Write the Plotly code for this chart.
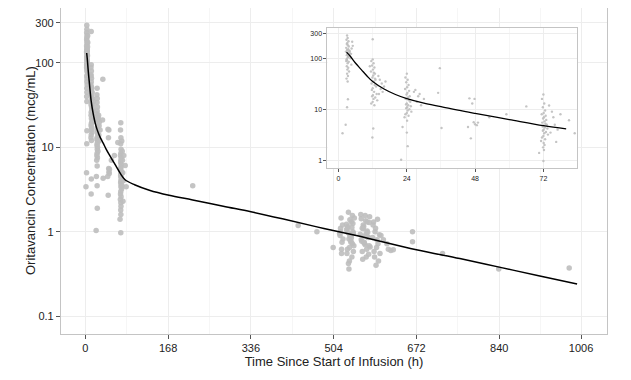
import plotly.graph_objects as go

# ---------------- data ----------------
# early samples (0-84 h), shown in both main plot and inset
c1_t = [3.0, 3.2, 2.8, 3.5, 3.1, 2.9, 3.3, 3.6, 2.7, 3.4, 3.0, 3.8, 2.6, 3.2, 4.0, 3.1, 2.9, 3.5, 3.3, 4.2,
        2.8, 3.0, 3.6, 3.2, 4.5, 2.9, 3.4, 3.1, 3.7, 3.0, 3.3, 2.8, 3.2, 4.8, 5.0, 4.6, 3.9, 4.4, 3.5, 3.0,
        2.7, 3.3, 3.0, 1.4, 2.5]
c1_c = [280, 250, 230, 215, 200, 190, 180, 170, 160, 150, 145, 140, 135, 130, 125, 120, 115, 110, 105, 100,
        95, 90, 85, 80, 75, 70, 65, 60, 55, 50, 45, 40, 35, 210, 175, 155, 138, 122, 108, 98,
        88, 15.7, 11, 3.4, 5.0]
c2_t = [12.0, 11.5, 12.3, 11.8, 12.6, 12.1, 11.4, 12.8, 12.2, 11.9, 13.0, 12.4, 11.6, 12.7, 13.2, 12.0, 11.7,
        12.5, 13.4, 12.1, 11.8, 12.9, 12.3, 13.6, 12.0, 11.5, 12.6, 14.0, 14.5, 15.2, 16.0, 14.8, 15.5, 14.2,
        16.5, 12.0, 12.2, 11.9, 11.0, 12.4, 12.8]
c2_c = [95, 88, 80, 72, 66, 60, 55, 50, 46, 42, 38, 35, 32, 30, 28, 26, 24, 22, 20, 19, 18, 17, 16, 15, 14,
        13, 12, 45, 38, 32, 28, 25, 22, 20, 35, 236, 4.2, 2.8, 70, 52, 40]
c3_t = [24.0, 23.5, 24.3, 23.8, 24.6, 24.1, 23.4, 24.8, 24.2, 23.9, 25.0, 24.4, 23.6, 24.7, 25.2, 24.0, 23.7,
        24.5, 25.4, 24.1, 23.8, 24.9, 24.3, 25.6, 24.0, 23.5, 24.6, 23.2, 24.1, 22.5, 24.0, 24.3, 27.0, 28.0,
        27.5, 29.0, 28.5, 26.5, 30.0, 22.0]
c3_c = [50, 42, 38, 34, 30, 27, 25, 23, 21, 19.5, 18, 17, 16, 15, 14, 13, 12.5, 12, 11.5, 11, 10.5, 10, 9.5,
        9, 8.5, 8, 7.5, 7, 6, 4.5, 3.5, 1.9, 24, 18, 14, 12, 20, 22, 16, 1.03]
c4_t = [35.6, 35.0, 36.2, 46.0, 47.0, 47.5, 48.0, 48.6, 46.5, 45.5, 47.8, 49.0, 59.0, 66.0, 53.0]
c4_c = [64, 21, 4.3, 16.4, 13, 5.6, 5.1, 4.9, 2.7, 4.5, 16.0, 5.5, 8.0, 11.4, 7.0]
c5_t = [72.0, 71.5, 72.3, 71.8, 72.6, 72.1, 71.4, 72.8, 72.2, 71.9, 73.0, 72.4, 71.6, 72.7, 73.2, 72.0, 71.7,
        72.5, 73.4, 72.1, 71.8, 72.9, 72.3, 73.6, 72.0, 71.5, 72.6, 71.2, 72.1, 72.4, 71.9, 72.2, 70.5, 72.0,
        74.0, 75.0, 75.5, 76.0, 74.5, 76.5, 78.0, 77.0, 81.0, 83.0]
c5_c = [19.5, 16, 13, 11, 9.5, 8.5, 8, 7.5, 7, 6.6, 6.2, 5.8, 5.5, 5.2, 5.0, 4.8, 4.6, 4.4, 4.2, 4.0, 3.8,
        3.6, 3.4, 3.2, 3.0, 2.8, 2.6, 2.4, 2.2, 2.0, 1.8, 1.6, 1.4, 0.97, 11.9, 9, 7, 5, 3.5, 2.3, 8, 4, 6.1, 3.4]

# late samples (main plot only)
late_t = [218, 432, 470, 503,
          517, 519, 520, 518, 521, 522, 516, 520, 518, 523,
          530, 532, 534, 536, 538, 540, 542, 544, 531, 533, 535, 537, 539, 541, 543, 545, 530, 534, 538, 542,
          536, 540, 532, 544, 546, 535, 539, 543, 537, 541, 533,
          558, 560, 562, 564, 566, 568, 570, 572, 574, 576, 578, 559, 561, 563, 565, 567, 569, 571, 573, 575,
          577, 560, 564, 568, 572, 576, 562, 566, 570, 574,
          583, 585, 587, 589, 591, 593, 595, 597, 584, 586, 588, 590, 592, 594,
          600, 605, 612, 615, 620, 625, 598,
          664, 664, 725, 839, 982]
late_c = [3.5, 1.18, 1.0, 0.65,
          0.9, 1.45, 0.62, 1.1, 0.75, 1.2, 0.95, 0.55, 1.0, 0.82,
          1.05, 0.62, 1.7, 0.45, 0.88, 1.3, 0.72, 0.96, 0.55, 1.15, 0.36, 1.38, 0.78, 0.5, 1.0, 0.68, 1.22,
          0.42, 0.92, 1.55, 0.65, 0.85, 1.1, 0.58, 1.45, 0.82, 0.75, 1.25, 0.9, 1.12, 0.98,
          0.93, 1.42, 0.58, 1.2, 0.73, 1.55, 0.5, 1.02, 0.85, 1.28, 0.66, 1.6, 0.77, 0.47, 1.15, 0.89, 1.35,
          0.62, 0.98, 0.54, 1.5, 0.81, 1.08, 0.7, 1.3, 0.68, 1.1, 0.75, 0.95, 0.86,
          0.85, 1.3, 0.5, 1.1, 0.65, 1.4, 0.45, 0.92, 1.2, 0.58, 1.0, 0.4, 0.8, 0.72,
          0.9, 0.8, 0.72, 0.62, 0.6, 0.61, 0.55,
          1.0, 0.76, 0.55, 0.36, 0.37]

# population-predicted curve
curve_t = [2.8, 4, 6, 8, 10, 12, 16, 20, 24, 30, 36, 42, 48, 60, 72, 80, 100, 130, 170, 218, 280, 336, 400,
           470, 550, 672, 760, 840, 920, 998]
curve_c = [131, 112, 80, 60, 45, 35, 25, 19.5, 16.2, 13.2, 11.3, 9.6, 8.3, 6.3, 4.8, 4.15, 3.6, 3.1, 2.7,
           2.38, 2.0, 1.72, 1.42, 1.14, 0.9, 0.61, 0.48, 0.38, 0.30, 0.24]

main_xticks = [0, 168, 336, 504, 672, 840, 1006]
main_yticks = [0.1, 1, 10, 100, 300]
inset_xticks = [0, 24, 48, 72]
inset_yticks = [1, 10, 100, 300]

early_t = c1_t + c2_t + c3_t + c4_t + c5_t
early_c = c1_c + c2_c + c3_c + c4_c + c5_c

# ---------------- figure ----------------
pt_color = "rgba(190,190,190,0.9)"
fig = go.Figure()
fig.add_trace(go.Scatter(x=early_t + late_t, y=early_c + late_c, mode="markers",
                         marker=dict(size=5.5, color=pt_color), xaxis="x", yaxis="y",
                         hoverinfo="skip", showlegend=False))
fig.add_trace(go.Scatter(x=curve_t, y=curve_c, mode="lines", line=dict(color="black", width=1.5),
                         line_shape="spline", xaxis="x", yaxis="y", showlegend=False))
fig.add_trace(go.Scatter(x=early_t, y=early_c, mode="markers",
                         marker=dict(size=2.4, color=pt_color), xaxis="x2", yaxis="y2",
                         hoverinfo="skip", showlegend=False))
fig.add_trace(go.Scatter(x=curve_t[:16], y=curve_c[:16], mode="lines", line=dict(color="black", width=1.3),
                         line_shape="spline", xaxis="x2", yaxis="y2", showlegend=False))

font = "Liberation Sans, Arial, sans-serif"
axcol = "#C4C4C4"
grid = "#EDEDED"
# page body has an 8px default margin, so the figure is sized 8px smaller
fig.update_layout(
    width=623, height=372, margin=dict(l=53, r=24, t=0, b=46),
    paper_bgcolor="white", plot_bgcolor="white",
    font=dict(family=font, color="#222222"),
    xaxis=dict(domain=[0, 1], range=[-49.3, 1058.7], tickvals=main_xticks,
               ticktext=[str(v) for v in main_xticks], ticks="outside", ticklen=4, tickcolor="#555555",
               showline=True, mirror=True, linecolor=axcol, linewidth=1.2, showgrid=True, gridcolor=grid,
               zeroline=False, tickfont=dict(size=11),
               minor=dict(tickvals=[84, 252, 420, 588, 756, 923], showgrid=True, gridcolor="#F6F6F6"),
               title=dict(text="Time Since Start of Infusion (h)", font=dict(size=13), standoff=0)),
    yaxis=dict(domain=[0, 1], type="log", range=[-1.213, 2.651], tickvals=main_yticks,
               ticktext=["0.1", "1", "10", "100", "300"], ticks="outside", ticklen=4, tickcolor="#555555",
               showline=True, mirror=True, linecolor=axcol, linewidth=1.2, showgrid=True, gridcolor=grid,
               zeroline=False, tickfont=dict(size=11)),
    xaxis2=dict(domain=[0.488, 0.945], anchor="y2", range=[-3.9, 83.8], tickvals=inset_xticks,
                ticktext=[str(v) for v in inset_xticks], ticks="outside", ticklen=3, tickcolor="#555555",
                showline=True, mirror=True, linecolor=axcol, linewidth=1, showgrid=True, gridcolor=grid,
                zeroline=False, tickfont=dict(size=7),
                minor=dict(tickvals=[12, 36, 60], showgrid=True, gridcolor="#F6F6F6")),
    yaxis2=dict(domain=[0.508, 0.939], anchor="x2", type="log", range=[-0.157, 2.595], tickvals=inset_yticks,
                ticktext=["1", "10", "100", "300"], ticks="outside", ticklen=3, tickcolor="#555555",
                showline=True, mirror=True, linecolor=axcol, linewidth=1, showgrid=True, gridcolor=grid,
                zeroline=False, tickfont=dict(size=7)),
    annotations=[dict(text="Oritavancin Concentration (mcg/mL)", textangle=-90, xref="paper", yref="paper",
                      x=0, y=0.5, xanchor="center", yanchor="middle", xshift=-31, showarrow=False,
                      font=dict(size=13, family=font, color="#222222"))],
)
fig.write_html("out.html")
